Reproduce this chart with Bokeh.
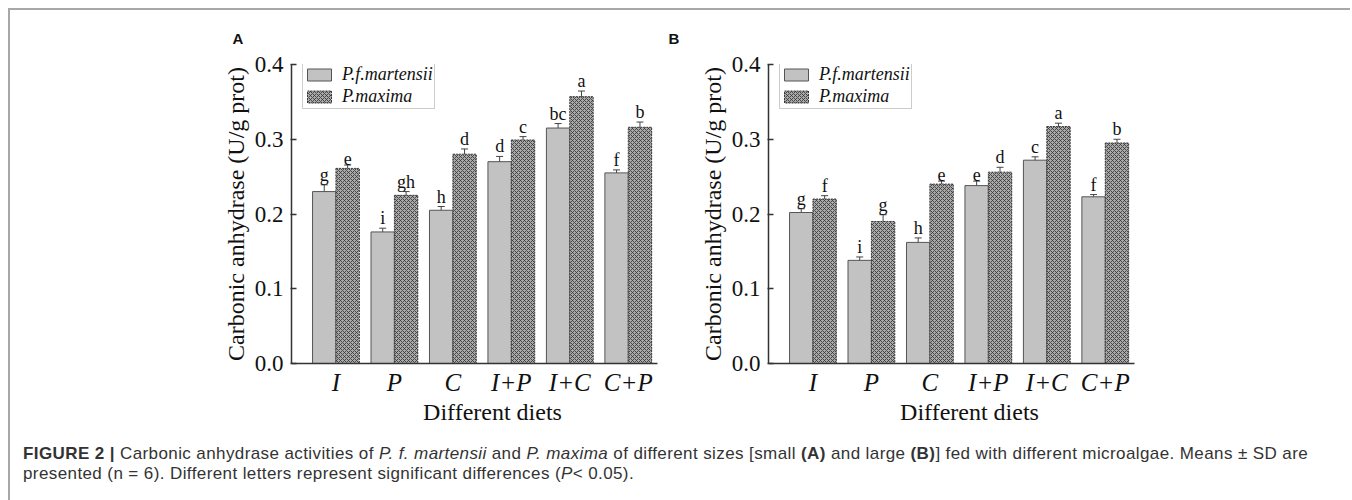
from bokeh.plotting import figure
from bokeh.models import (Range1d, FixedTicker, ColumnDataSource, Whisker, TeeHead,
                          Legend, LegendItem, Div, NumeralTickFormatter)
from bokeh.layouts import row, column
from bokeh.transform import dodge
from bokeh.core.properties import value
from bokeh.embed import file_html
from bokeh.resources import INLINE

diets = ["I", "P", "C", "I+P", "I+C", "C+P"]
series_names = ["P.f.martensii", "P.maxima"]
y_ticks = [0.0, 0.1, 0.2, 0.3, 0.4]

# Panel A (small)
a_mart = [0.230, 0.176, 0.205, 0.270, 0.315, 0.255]
a_mart_sd = [0.009, 0.005, 0.005, 0.007, 0.006, 0.004]
a_mart_sig = ["g", "i", "h", "d", "bc", "f"]
a_max = [0.261, 0.225, 0.280, 0.299, 0.357, 0.316]
a_max_sd = [0.0045, 0.005, 0.007, 0.0045, 0.0075, 0.007]
a_max_sig = ["e", "gh", "d", "c", "a", "b"]

# Panel B (large)
b_mart = [0.202, 0.138, 0.162, 0.238, 0.272, 0.223]
b_mart_sd = [0.005, 0.0045, 0.006, 0.006, 0.0045, 0.003]
b_mart_sig = ["g", "i", "h", "e", "c", "f"]
b_max = [0.220, 0.190, 0.240, 0.256, 0.317, 0.295]
b_max_sd = [0.0045, 0.009, 0.004, 0.0065, 0.0045, 0.005]
b_max_sig = ["f", "g", "e", "d", "a", "b"]

SERIF = "Liberation Serif"
NB = "\u00a0"


def make_panel(letter, mart, mart_sd, mart_sig, mx, mx_sd, mx_sig, mbl, mbr, letter_dx):
    xs = list(range(1, len(diets) + 1))
    src = ColumnDataSource(dict(
        x=xs, mart=mart, mx=mx,
        mart_up=[m + s for m, s in zip(mart, mart_sd)],
        mart_lo=[m - s for m, s in zip(mart, mart_sd)],
        mx_up=[m + s for m, s in zip(mx, mx_sd)],
        mx_lo=[m - s for m, s in zip(mx, mx_sd)],
        mart_sig=mart_sig, mx_sig=mx_sig,
    ))
    p = figure(width=mbl + 366 + mbr, height=429,
               x_range=Range1d(0.24, 6.5), y_range=Range1d(0, 0.4),
               output_backend="svg", toolbar_location=None,
               min_border_left=mbl, min_border_right=mbr,
               min_border_top=53, min_border_bottom=76)
    p.outline_line_color = None
    p.grid.visible = False
    p.background_fill_color = "white"
    p.border_fill_color = "white"

    p.title.text = letter
    p.title.align = "left"
    p.title.offset = letter_dx
    p.title.standoff = 35
    p.title.text_font = "Liberation Sans"
    p.title.text_font_style = "bold"
    p.title.text_font_size = "15px"
    p.title.text_color = "#111111"

    r1 = p.vbar(x=dodge("x", -0.2), top="mart", width=0.4, source=src,
                fill_color="#c2c2c2", line_color="#555555", line_width=1)
    r2 = p.vbar(x=dodge("x", 0.2), top="mx", width=0.4, source=src,
                fill_color="#a9a9a9", hatch_pattern="x", hatch_scale=4,
                hatch_color="#383838", hatch_weight=1, hatch_alpha=0.85,
                line_color="#383838", line_width=1, line_dash="2 1")

    for off, up, lo in ((-0.2, "mart_up", "mart_lo"), (0.2, "mx_up", "mx_lo")):
        w = Whisker(source=src, base=dodge("x", off), upper=up, lower=lo,
                    line_color="#444444", line_width=1,
                    upper_head=TeeHead(size=7, line_color="#444444", line_width=1),
                    lower_head=TeeHead(size=7, line_color="#444444", line_width=1))
        p.add_layout(w)

    for off, up, sig in ((-0.2, "mart_up", "mart_sig"), (0.2, "mx_up", "mx_sig")):
        p.text(x=dodge("x", off), y=up, text=sig, source=src,
               text_align="center", text_baseline="bottom",
               text_font=value(SERIF), text_font_size="18px", text_color="#111111")

    legend = Legend(items=[LegendItem(label=series_names[0], renderers=[r1]),
                           LegendItem(label=series_names[1], renderers=[r2])],
                    location=(11, 254))
    legend.glyph_width = 30
    legend.glyph_height = 15
    legend.label_height = 15
    legend.padding = 1
    legend.spacing = 1
    legend.margin = 0
    legend.label_standoff = 8
    legend.label_text_font = SERIF
    legend.label_text_font_style = "italic"
    legend.label_text_font_size = "18px"
    legend.label_text_color = "#111111"
    legend.border_line_color = "#999999"
    legend.border_line_width = 1
    legend.background_fill_color = "white"
    p.add_layout(legend)

    for ax in (p.xaxis[0], p.yaxis[0]):
        ax.axis_line_color = "#333333"
        ax.axis_line_width = 1.5
        ax.major_tick_line_color = "#333333"
        ax.major_tick_line_width = 1.5
        ax.minor_tick_line_color = None
        ax.major_label_text_font = SERIF
        ax.major_label_text_color = "#111111"

    p.xaxis.ticker = FixedTicker(ticks=xs)
    p.xaxis.major_label_overrides = {x: d for x, d in zip(xs, diets)}
    p.xaxis.major_label_text_font_style = "italic"
    p.xaxis.major_label_text_font_size = "25px"
    p.xaxis.major_tick_in = 0
    p.xaxis.major_tick_out = 0
    p.xaxis.major_label_standoff = 5
    p.xaxis.axis_label = NB * 6 + "Different diets"
    p.xaxis.axis_label_text_font = SERIF
    p.xaxis.axis_label_text_font_style = "normal"
    p.xaxis.axis_label_text_font_size = "24px"
    p.xaxis.axis_label_text_color = "#111111"
    p.xaxis.axis_label_standoff = 0

    p.yaxis.ticker = FixedTicker(ticks=y_ticks)
    p.yaxis.formatter = NumeralTickFormatter(format="0.0")
    p.yaxis.major_label_text_font_size = "23px"
    p.yaxis.major_tick_in = 5
    p.yaxis.major_tick_out = 1
    p.yaxis.major_label_standoff = 7
    p.yaxis.axis_label = "Carbonic anhydrase (U/g prot)"
    p.yaxis.axis_label_text_font = SERIF
    p.yaxis.axis_label_text_font_style = "normal"
    p.yaxis.axis_label_text_font_size = "24px"
    p.yaxis.axis_label_text_color = "#111111"
    p.yaxis.axis_label_standoff = 3
    return p


pA = make_panel("A", a_mart, a_mart_sd, a_mart_sig, a_max, a_max_sd, a_max_sig,
                281, 5, -59)
pB = make_panel("B", b_mart, b_mart_sd, b_mart_sig, b_max, b_max_sd, b_max_sig,
                106, 40, -100)

caption = Div(
    text=('<span style="font-weight:bold">FIGURE 2 |</span> Carbonic anhydrase activities of '
          '<i>P. f. martensii</i> and <i>P. maxima</i> of different sizes [small <b>(A)</b> and '
          'large <b>(B)</b>] fed with different microalgae. Means &plusmn; SD are<br>'
          'presented (n = 6). Different letters represent significant differences '
          '(<i>P</i>&lt; 0.05).'),
    width=1326, height=56,
    styles={"font-family": "Liberation Sans, Arial, sans-serif", "font-size": "17px",
            "letter-spacing": "0.4px", "line-height": "20px", "color": "#333333",
            "padding-left": "8px"})

layout = column(row(pA, pB), caption, width=1342, margin=(8, 0, 0, 8),
                styles={"border-top": "2px solid #a8a8a8", "border-left": "2px solid #a8a8a8"})

open("out.html", "w").write(file_html(layout, INLINE))
